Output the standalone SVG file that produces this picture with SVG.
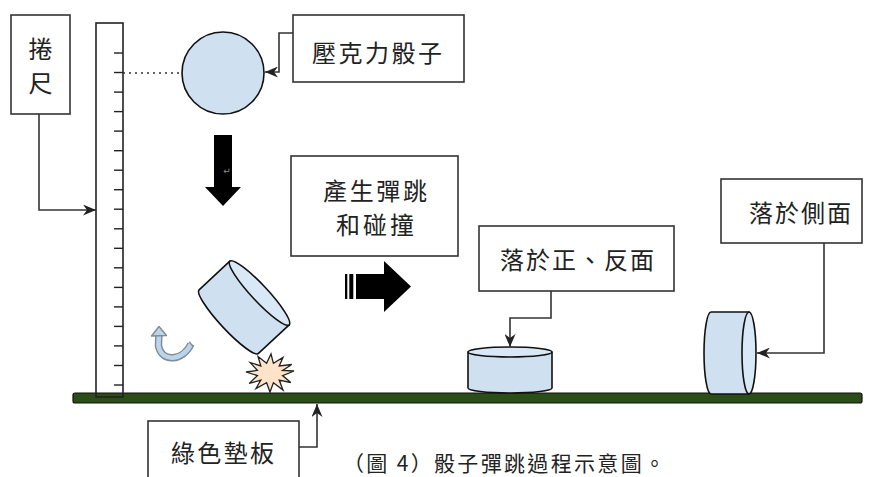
<svg xmlns="http://www.w3.org/2000/svg" width="870" height="477" viewBox="0 0 870 477">
  <style>
    .box { fill: #ffffff; stroke: #333333; stroke-width: 1.6; }
    .lbl { font-family: "Noto Sans CJK TC", "Noto Sans CJK SC", sans-serif; font-size: 24px; fill: #222222; }
    .cap { font-family: "Noto Sans CJK TC", "Noto Sans CJK SC", sans-serif; font-size: 21px; fill: #222222; }
    .conn { fill: none; stroke: #333333; stroke-width: 1.6; }
    .dice { fill: #cfe0f1; stroke: #111111; stroke-width: 1.6; stroke-linejoin: round; }
    .face { fill: #d9e8f6; stroke: #111111; stroke-width: 1.6; }
    .tick { stroke: #222222; stroke-width: 1.4; }
  </style>
  <defs>
    <marker id="stealth" viewBox="0 0 13 11" refX="13" refY="5.5" markerWidth="13" markerHeight="11" markerUnits="userSpaceOnUse" orient="auto">
      <path d="M0,0 L13,5.5 L0,11 L4,5.5 Z" fill="#222222"/>
    </marker>
  </defs>

  <rect width="870" height="477" fill="#ffffff"/>

  <!-- green mat -->
  <g id="mat">
    <rect x="73" y="393" width="789" height="10" rx="2" fill="#2b4d17" stroke="#111111" stroke-width="1.2"/>
  </g>

  <!-- measuring ruler -->
  <g id="ruler">
    <rect x="96" y="23" width="27" height="374" fill="none" stroke="#222222" stroke-width="1.6"/>
    <g class="tick">
      <line x1="114" y1="53" x2="123" y2="53"/>
      <line x1="114" y1="72.5" x2="123" y2="72.5"/>
      <line x1="114" y1="92.1" x2="123" y2="92.1"/>
      <line x1="114" y1="111.6" x2="123" y2="111.6"/>
      <line x1="114" y1="131.1" x2="123" y2="131.1"/>
      <line x1="114" y1="150.7" x2="123" y2="150.7"/>
      <line x1="114" y1="170.2" x2="123" y2="170.2"/>
      <line x1="114" y1="189.7" x2="123" y2="189.7"/>
      <line x1="114" y1="209.2" x2="123" y2="209.2"/>
      <line x1="114" y1="228.8" x2="123" y2="228.8"/>
      <line x1="114" y1="248.3" x2="123" y2="248.3"/>
      <line x1="114" y1="267.8" x2="123" y2="267.8"/>
      <line x1="114" y1="287.4" x2="123" y2="287.4"/>
      <line x1="114" y1="306.9" x2="123" y2="306.9"/>
      <line x1="114" y1="326.4" x2="123" y2="326.4"/>
      <line x1="114" y1="345.9" x2="123" y2="345.9"/>
      <line x1="114" y1="365.5" x2="123" y2="365.5"/>
      <line x1="114" y1="385" x2="123" y2="385"/>
    </g>
    <line x1="123" y1="73" x2="224" y2="73" stroke="#333333" stroke-width="1.5" stroke-dasharray="2 4"/>
  </g>

  <!-- label: tape measure -->
  <g id="tape-label">
    <rect class="box" x="11" y="15" width="59" height="99"/>
    <text class="lbl" x="40.5" y="57.5" text-anchor="middle">捲</text>
    <text class="lbl" x="40.5" y="91.5" text-anchor="middle">尺</text>
  </g>

  <!-- acrylic dice (top view, before drop) -->
  <g id="dice-top">
    <circle cx="223" cy="73" r="41" fill="#cfe0f1" stroke="#111111" stroke-width="1.6"/>
  </g>

  <g id="dice-label">
    <rect class="box" x="293" y="15" width="171" height="67"/>
    <text class="lbl" x="312" y="62" textLength="130" lengthAdjust="spacing">壓克力骰子</text>
  </g>

  <!-- falling arrow -->
  <g id="fall-arrow">
    <polygon points="214,135 232,135 232,187 241,187 223,206 205,187 214,187" fill="#000000"/>
    <text x="227" y="174" font-family="DejaVu Sans, sans-serif" font-size="9" fill="#8a8a8a" text-anchor="middle">↵</text>
  </g>

  <!-- tilted dice hitting the mat -->
  <g id="dice-tilted" transform="translate(259.5,293) rotate(47)">
    <path class="dice" d="M -43.5 0 L -43.5 42 A 43.5 8 0 0 0 43.5 42 L 43.5 0 Z"/>
    <ellipse class="face" cx="0" cy="0" rx="43.5" ry="8"/>
  </g>

  <!-- rotation arrow -->
  <g id="spin">
    <path d="M 191 344 C 183 361, 162 363, 158.5 346 L 158.8 335" fill="none" stroke="#7f8c99" stroke-width="7.5" stroke-linecap="butt"/>
    <path d="M 191 344 C 183 361, 162 363, 158.5 346 L 158.8 335" fill="none" stroke="#bdd3ea" stroke-width="4.6" stroke-linecap="butt"/>
    <line x1="189.3" y1="341.6" x2="193" y2="346.6" stroke="#7f8c99" stroke-width="1.4"/>
    <polygon points="159,326.5 166.5,335.5 151.5,336" fill="#bdd3ea" stroke="#7f8c99" stroke-width="1.4" stroke-linejoin="round"/>
  </g>

  <!-- impact burst -->
  <g id="impact">
    <polygon points="294,371 282.6,375.6 290.8,382.5 279.2,380.1 283,390 273.4,382.7 270,392 266.6,382.7 256,388.5 260.8,380.1 249.2,383.5 257.4,375.6 246,372 257.4,370.4 250.2,362.5 260.8,365.9 258,356.5 266.6,363.3 271,354 273.4,363.3 283,357.5 279.2,365.9 291.8,364.5 282.6,370.4" fill="#fde4c8" stroke="#222222" stroke-width="1.3" stroke-linejoin="miter"/>
  </g>

  <g id="bounce-label">
    <rect class="box" x="291" y="156" width="167" height="100"/>
    <text class="lbl" x="323" y="200" textLength="104" lengthAdjust="spacing">產生彈跳</text>
    <text class="lbl" x="336" y="234" textLength="78" lengthAdjust="spacing">和碰撞</text>
  </g>

  <!-- striped arrow -->
  <g id="result-arrow" fill="#000000">
    <rect x="345" y="274" width="2.3" height="25"/>
    <rect x="349.3" y="274" width="4" height="25"/>
    <polygon points="356,274 384,274 384,261 411,286.5 384,312 384,299 356,299"/>
  </g>

  <!-- dice landed flat -->
  <g id="dice-flat">
    <path class="dice" d="M 468 352 L 468 388 A 42 5 0 0 0 552 388 L 552 352 Z"/>
    <ellipse class="face" cx="510" cy="352" rx="42" ry="5"/>
  </g>

  <g id="flat-label">
    <rect class="box" x="479" y="226" width="195" height="65"/>
    <text class="lbl" x="500" y="269" textLength="154" lengthAdjust="spacing">落於正、反面</text>
  </g>

  <!-- dice landed on its side -->
  <g id="dice-side">
    <path class="dice" d="M 711 312 L 749 312 L 749 394 L 711 394 A 7 41 0 0 1 711 312 Z"/>
    <ellipse class="face" cx="749" cy="353" rx="7" ry="41"/>
  </g>

  <g id="side-label">
    <rect class="box" x="721" y="179" width="141" height="64"/>
    <text class="lbl" x="749" y="222" textLength="102" lengthAdjust="spacing">落於側面</text>
  </g>

  <g id="mat-label">
    <rect class="box" x="148" y="421" width="151" height="70"/>
    <text class="lbl" x="171" y="462" textLength="103" lengthAdjust="spacing">綠色墊板</text>
  </g>

  <!-- connectors -->
  <g id="connectors">
    <path class="conn" d="M 39 114 V 210 H 96" marker-end="url(#stealth)"/>
    <path class="conn" d="M 293 33 H 279 V 72 H 265" marker-end="url(#stealth)"/>
    <path class="conn" d="M 551 291 V 318 H 510 V 347" marker-end="url(#stealth)"/>
    <path class="conn" d="M 824 243 V 353 H 757" marker-end="url(#stealth)"/>
    <path class="conn" d="M 299 447 H 317 V 404" marker-end="url(#stealth)"/>
  </g>

  <!-- caption -->
  <text class="cap" x="343" y="471" textLength="322" lengthAdjust="spacing">（圖 4）骰子彈跳過程示意圖。</text>
</svg>
